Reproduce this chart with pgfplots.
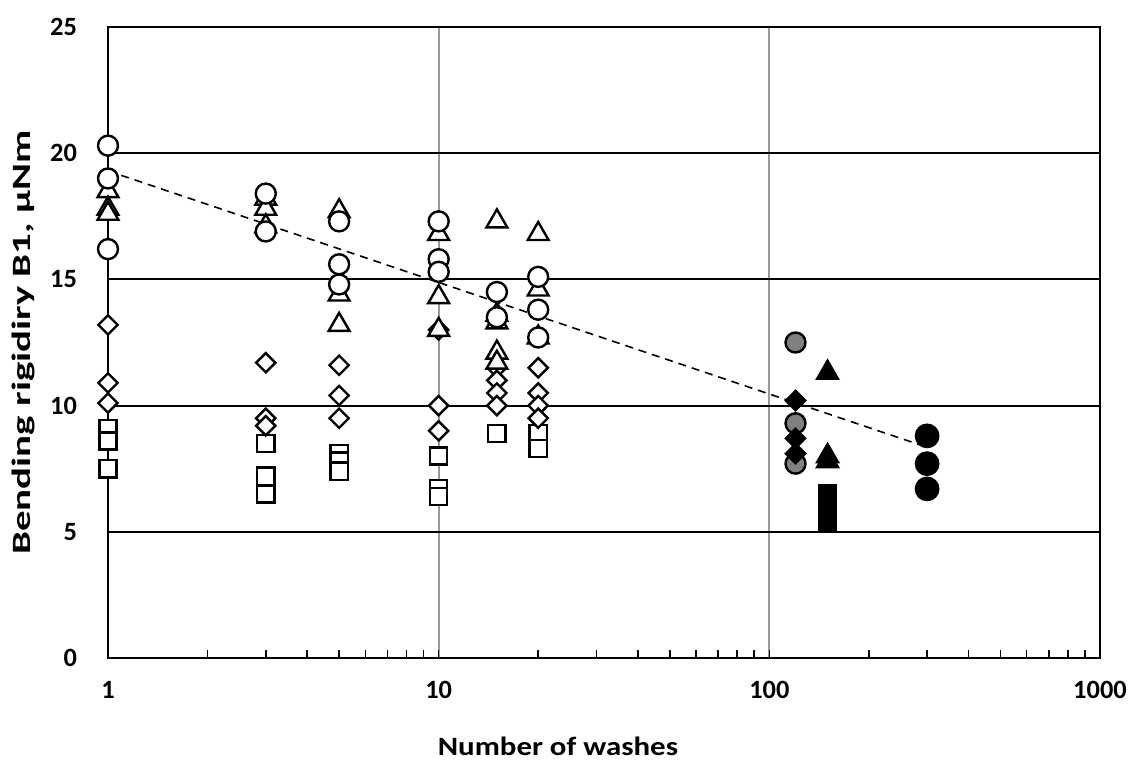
\documentclass[border=0pt]{standalone}
\usepackage{fontspec}
\setmainfont{Carlito}
\usepackage{graphicx}
\usepackage{pgfplots}
\pgfplotsset{compat=1.18}
\begin{document}
\begin{tikzpicture}
\begin{axis}[
  at={(0,0)}, anchor=south west,
  scale only axis, width=496pt, height=315.5pt,
  xmode=log, xmin=1, xmax=1000, ymin=0, ymax=25,
  xtick={1,10,100,1000}, xticklabels={1,10,100,1000},
  minor xtick={2,3,4,5,6,7,8,9,20,30,40,50,60,70,80,90,200,300,400,500,600,700,800,900},
  ytick={0,5,10,15,20,25}, yticklabels={0,5,10,15,20,25},
  xmajorgrids, ymajorgrids,
  x grid style={black!40, line width=1pt},
  y grid style={black, line width=1pt},
  axis line style={black, line width=1pt},
  tick align=inside, xtick pos=bottom, ytick pos=left,
  ytick style={draw=none},
  xtick style={black, line width=0.8pt},
  major tick length=4pt, minor tick length=4pt,
  ticklabel style={font=\fontsize{13.2}{15}\selectfont\bfseries},
  yticklabel style={anchor=east, xshift=-12pt},
  xticklabel style={anchor=north, yshift=-8pt},
  xlabel={\scalebox{1.17}[1]{Number of washes}},
  ylabel={\scalebox{1.55}[1]{Bending rigidiry B1, μNm}},
  label style={font=\fontsize{13.2}{15}\selectfont\bfseries},
  xlabel style={at={(axis description cs:0.4536,-0.1395)}, anchor=center},
  ylabel style={at={(axis description cs:-0.0847,0.5)}, anchor=center, rotate=0},
]
% open squares
\addplot[only marks, mark=square*, mark size=4.3pt, mark options={fill=white, draw=black, line width=1.2pt}] coordinates {
(1,9.1) (1,8.6) (1,7.5)
(3,8.5) (3,7.2) (3,6.5)
(5,8.1) (5,7.8) (5,7.4)
(10,8.0) (10,6.7) (10,6.4)
(15,8.9)
(20,8.9) (20,8.3)
};
% open diamonds
\addplot[only marks, mark=square*, mark size=3.4pt, mark options={rotate=45, fill=white, draw=black, line width=1.2pt}] coordinates {
(1,13.2) (1,10.9) (1,10.1)
(3,11.7) (3,9.5) (3,9.2)
(5,11.6) (5,10.4) (5,9.5)
(10,13.0) (10,10.0) (10,9.0)
(15,11.5) (15,11.0) (15,10.5) (15,10.0)
(20,11.5) (20,10.5) (20,10.0) (20,9.5)
};
% open triangles
\addplot[only marks, mark=triangle*, mark size=6pt, mark options={fill=white, draw=black, line width=1.2pt}] coordinates {
(1,18.5) (1,17.8) (1,17.6)
(3,18.2) (3,17.8) (3,17.1)
(5,17.7) (5,14.4) (5,13.2)
(10,16.8) (10,14.3) (10,13.0)
(15,17.3) (15,13.6) (15,13.3) (15,12.1) (15,11.7)
(20,16.8) (20,14.6) (20,12.7)
};
% open circles
\addplot[only marks, mark=*, mark size=5pt, mark options={fill=white, draw=black, line width=1.2pt}] coordinates {
(1,20.3) (1,19.0) (1,16.2)
(3,18.4) (3,16.9)
(5,17.3) (5,15.6) (5,14.8)
(10,17.3) (10,15.8) (10,15.3)
(15,14.5) (15,13.5)
(20,15.1) (20,13.8) (20,12.7)
};
% gray circles
\addplot[only marks, mark=*, mark size=5pt, mark options={fill=black!50, draw=black, line width=1.2pt}] coordinates {
(120,12.5) (120,9.3) (120,7.7)
};
% black diamonds
\addplot[only marks, mark=square*, mark size=3.4pt, mark options={rotate=45, fill=black, draw=black, line width=1.2pt}] coordinates {
(120,10.2) (120,8.7) (120,8.1)
};
% black triangles
\addplot[only marks, mark=triangle*, mark size=6pt, mark options={fill=black, draw=black, line width=1.2pt}] coordinates {
(150,11.3) (150,8.0) (150,7.8)
};
% black squares
\addplot[only marks, mark=square*, mark size=4.3pt, mark options={fill=black, draw=black, line width=1.2pt}] coordinates {
(150,6.5) (150,6.1) (150,5.8) (150,5.4)
};
% black circles
\addplot[only marks, mark=*, mark size=5.6pt, mark options={fill=black, draw=black, line width=1.2pt}] coordinates {
(300,8.8) (300,7.7) (300,6.7)
};
% trend line
\addplot[black, line width=0.8pt, dash pattern=on 4pt off 3pt] coordinates {(1,19.3) (300,8.35)};
\end{axis}
\pgfresetboundingbox
\path[use as bounding box] (-54pt,-52pt) rectangle (510.5pt,329pt);
\end{tikzpicture}
\end{document}
